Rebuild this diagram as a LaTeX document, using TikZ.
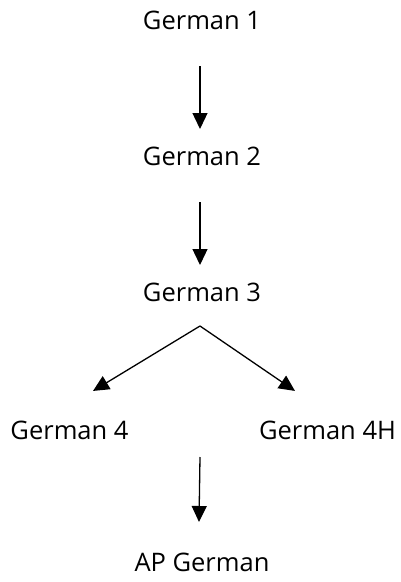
\documentclass[tikz,border=0pt]{standalone}
\usepackage{fontspec}
\setmainfont{Open Sans}
\usetikzlibrary{positioning}
\usetikzlibrary{arrows.meta}
\tikzset{>={Triangle[width=15pt,length=16pt]}}
\tikzset{course/.style={inner sep=0pt, font=\fontsize{25.5}{31}\selectfont}}
\tikzset{link/.style={->, line width=1.3pt}}

\begin{document}
\begin{tikzpicture}[x=1pt,y=1pt]
\useasboundingbox (0,0) rectangle (401,-582);
\begin{scope}[on grid]

\node[course] (g1) at (202,-20.5) {German 1};
\node[course] (g2) [below=136pt of g1] {German 2};
\node[course] (g3) [below=136pt of g2] {German 3};
\node[course] (g4) [below left=138pt and 132.5pt of g3] {German 4};
\node[course] (g4h) [below right=138pt and 125.5pt of g3] {German 4H};
\node[course] (ap) [below=270pt of g3] {AP German};

\coordinate (split) at (200,-326);
\coordinate (join) at (200,-457);

\draw[link] ([xshift=-2pt,yshift=-45.5pt]g1.center) -- ([xshift=-2pt,yshift=27.5pt]g2.center);
\draw[link] ([xshift=-2pt,yshift=-45.5pt]g2.center) -- ([xshift=-2pt,yshift=27.5pt]g3.center);

\draw[link] (split) -- ([shift={(23.5pt,30pt)}]g4.north);
\draw[link] (split) -- ([shift={(-32.5pt,30pt)}]g4h.north);

\draw[link] (join) -- ([xshift=-3pt,yshift=40.5pt]ap.center);

\end{scope}
\end{tikzpicture}
\end{document}
